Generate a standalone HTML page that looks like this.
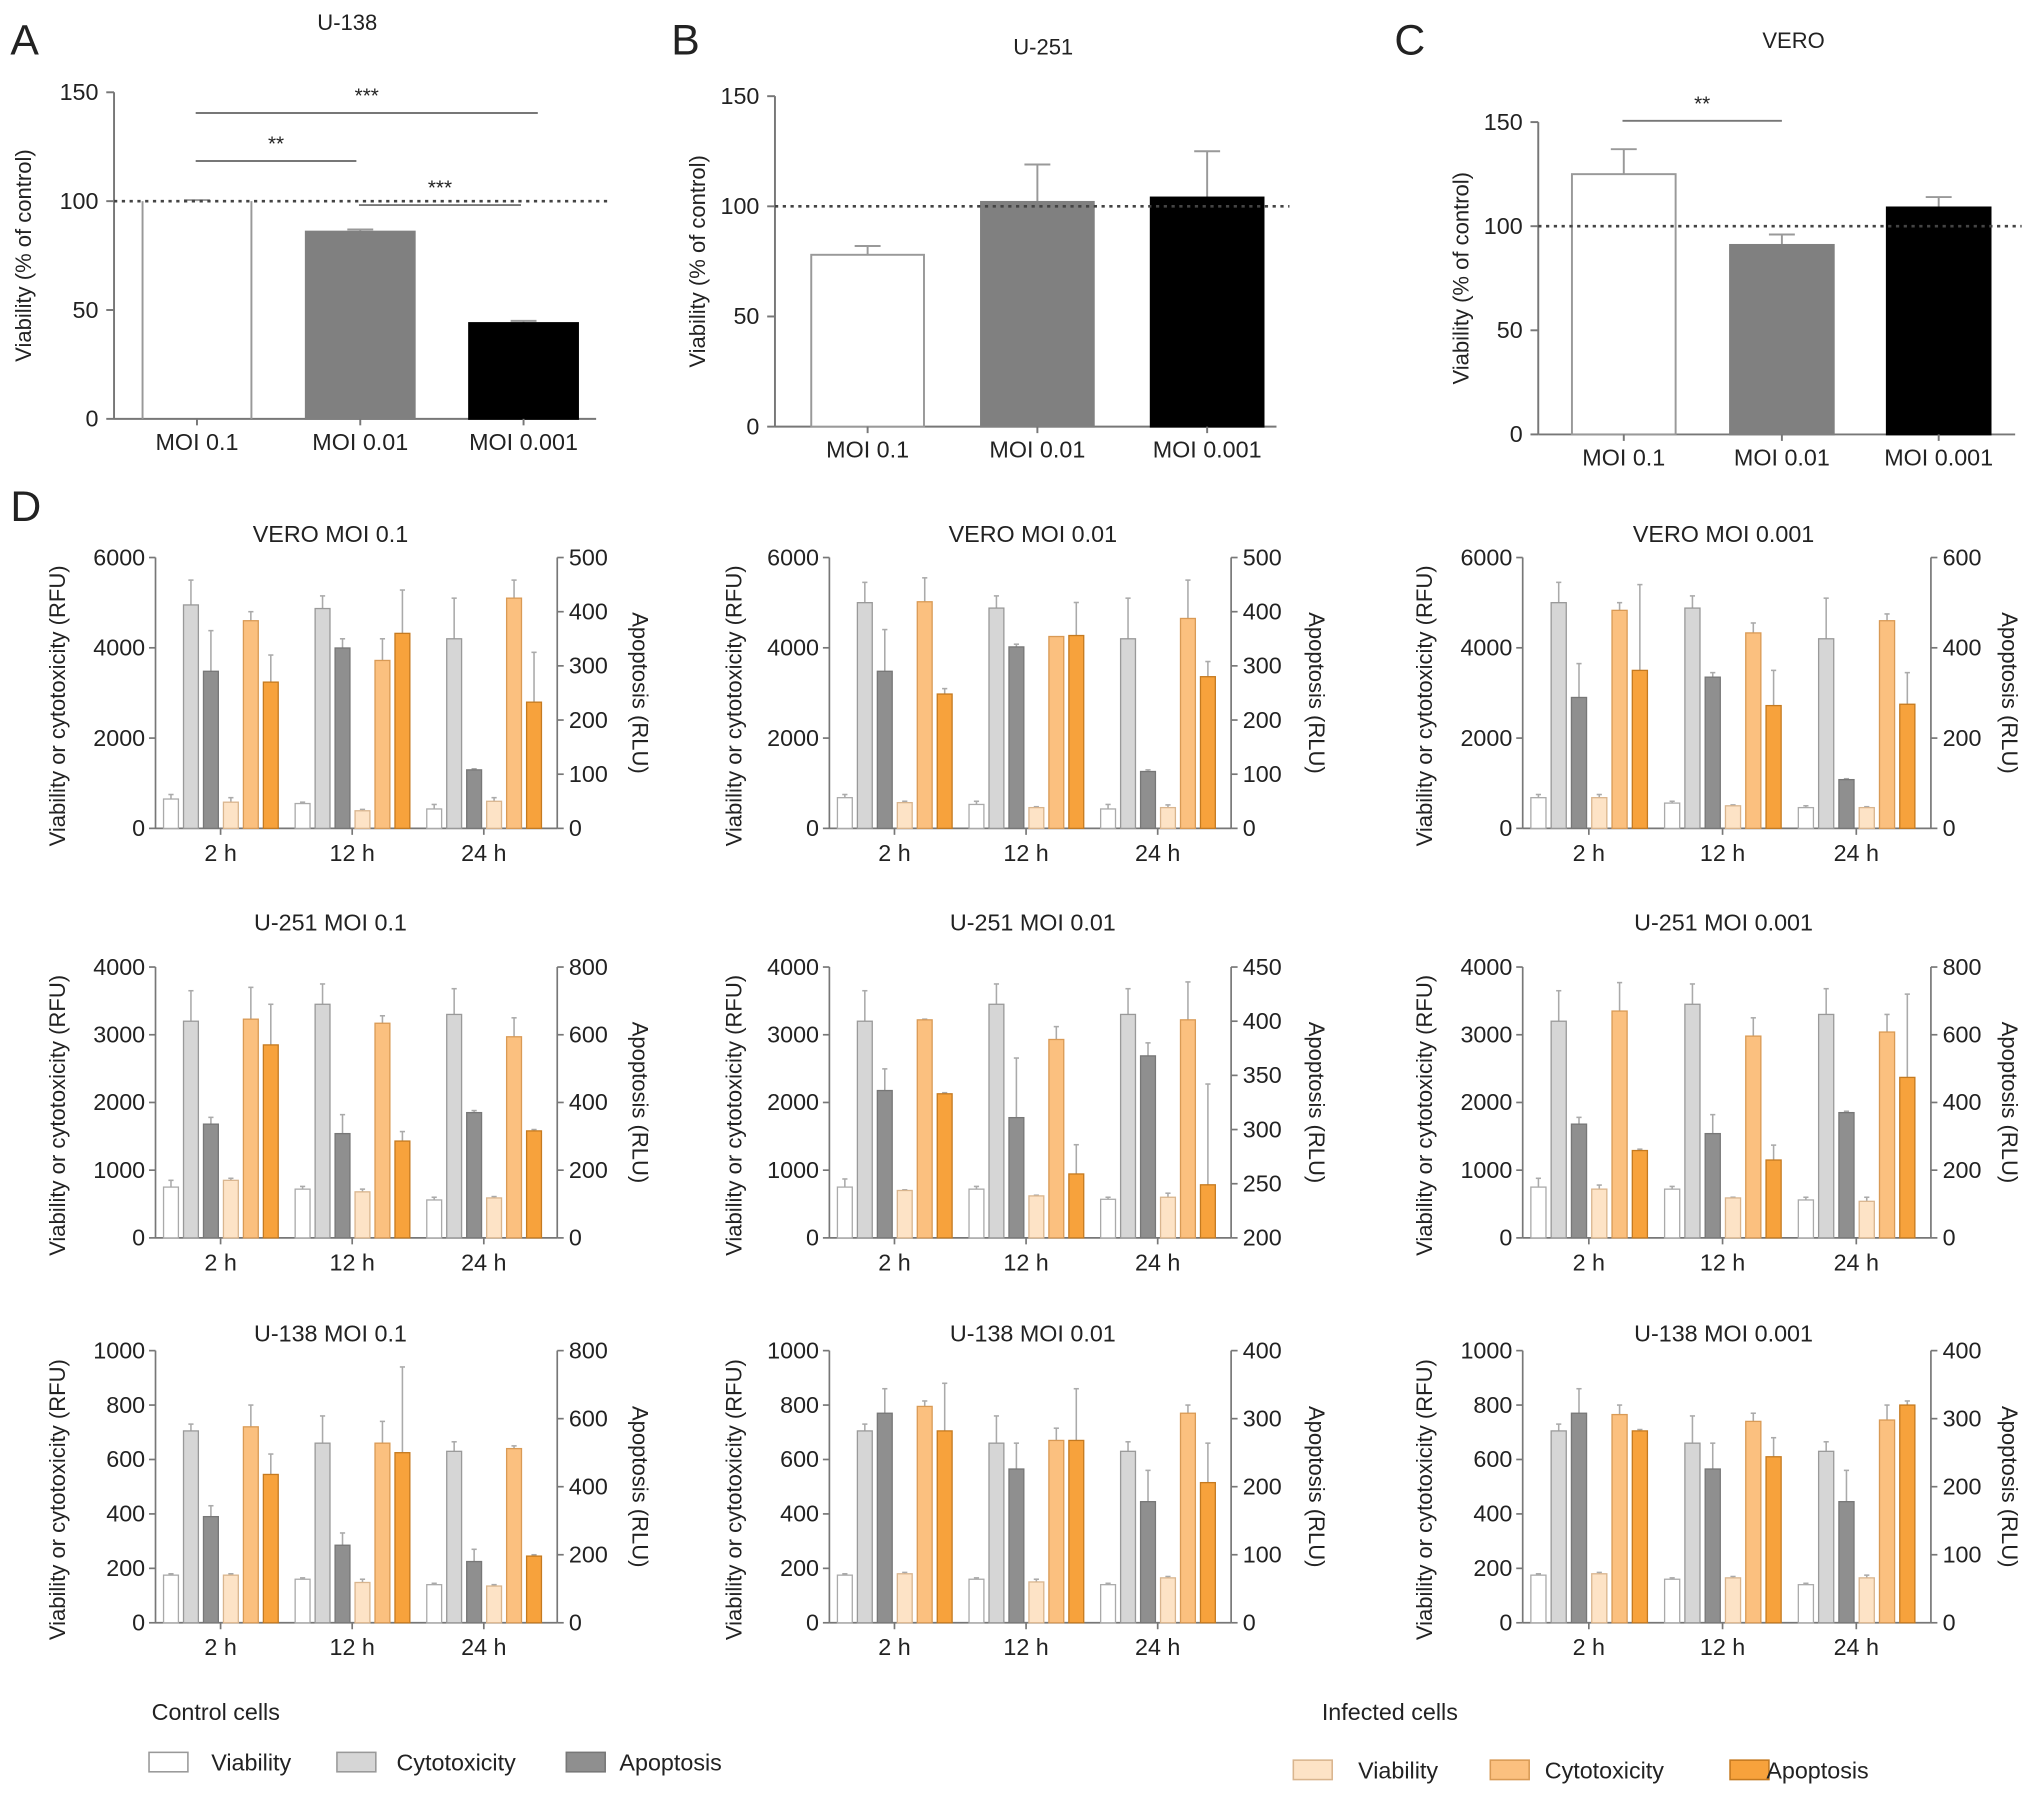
<!DOCTYPE html>
<html><head><meta charset="utf-8"><style>
html,body{margin:0;padding:0;background:#fff}
svg{display:block}
text{font-family:"Liberation Sans",sans-serif;fill:#222}
</style></head><body>
<svg id="fig" width="2032" height="1798" viewBox="0 0 1568 1387" xmlns="http://www.w3.org/2000/svg"></svg>
<script>
// ---------- Panel A/B/C data ----------
const topCats = ["MOI 0.1","MOI 0.01","MOI 0.001"];
const aVals = [100, 86, 44];
const aErr = [100.5, 87, 45];
const bVals = [78, 102, 104];
const bErr = [82, 119, 125];
const cVals = [125, 91, 109];
const cErr = [137, 96, 114];
const topTicks = [0, 50, 100, 150];

// ---------- Panel D data: per panel, per timepoint [V, C, A(right), iV, iC, iA(right)] ----------
const timeCats = ["2 h","12 h","24 h"];
const dTitles = ["VERO MOI 0.1","VERO MOI 0.01","VERO MOI 0.001","U-251 MOI 0.1","U-251 MOI 0.01","U-251 MOI 0.001","U-138 MOI 0.1","U-138 MOI 0.01","U-138 MOI 0.001"];
const dLeftMax = [6000,6000,6000,4000,4000,4000,1000,1000,1000];
const dLeftStep = [2000,2000,2000,1000,1000,1000,200,200,200];
const dRightMin = [0,0,0,0,200,0,0,0,0];
const dRightMax = [500,500,600,800,450,800,800,400,400];
const dRightStep = [100,100,200,200,50,200,200,100,100];
const dVals = [
 [[650,4950,290,580,4600,270],[550,4870,333,390,3720,360],[430,4200,108,600,5100,233]],
 [[680,5000,290,570,5020,248],[530,4880,335,460,4250,356],[430,4200,105,460,4650,280]],
 [[680,5000,290,680,4830,350],[560,4880,335,500,4330,272],[460,4200,108,460,4600,275]],
 [[750,3200,336,850,3230,570],[720,3450,308,680,3170,286],[560,3300,370,590,2970,316]],
 [[750,3200,336,700,3220,333],[720,3450,311,620,2930,259],[570,3300,368,600,3220,249]],
 [[750,3200,336,720,3350,258],[720,3450,308,590,2980,230],[560,3300,370,540,3040,474]],
 [[175,705,312,175,720,436],[160,660,228,148,660,500],[140,630,180,135,640,196]],
 [[175,705,308,180,795,282],[160,660,226,150,670,268],[140,630,178,165,770,206]],
 [[175,705,308,180,765,282],[160,660,226,165,740,244],[140,630,178,165,745,320]]
];
const dErrs = [
 [[750,5500,365,680,4800,320],[580,5150,350,420,4200,440],[530,5100,110,680,5500,325]],
 [[750,5450,367,600,5550,258],[600,5150,340,480,4250,417],[530,5100,108,520,5500,308]],
 [[750,5450,365,750,5000,540],[600,5150,345,520,4550,350],[500,5100,110,480,4750,345]],
 [[850,3650,356,880,3700,690],[760,3750,364,720,3280,314],[600,3680,376,610,3250,320]],
 [[870,3650,356,710,3230,334],[760,3750,366,630,3120,286],[600,3680,380,660,3780,342]],
 [[880,3650,356,780,3770,262],[760,3750,364,600,3250,274],[600,3680,374,600,3300,720]],
 [[180,730,344,180,800,496],[165,760,264,160,740,752],[145,665,216,140,650,200]],
 [[180,730,344,185,815,352],[165,760,264,160,715,344],[145,665,224,170,800,264]],
 [[180,730,344,185,800,284],[165,760,264,170,770,272],[145,665,224,175,800,326]]
];

const NS="http://www.w3.org/2000/svg";
const svg=document.getElementById('fig');
function mk(tag,attrs,parent){const e=document.createElementNS(NS,tag);for(const k in attrs)e.setAttribute(k,attrs[k]);(parent||svg).appendChild(e);return e;}
function txt(s,x,y,size,anchor,parent,extra){const t=mk('text',Object.assign({x:x,y:y,'font-size':size,'text-anchor':anchor||'middle'},extra||{}),parent);t.textContent=s;return t;}

// ---------- top panels ----------
function topPanel(cfg){
  const g=mk('g',{});
  
  
  const y=v=>cfg.y0-(v/150)*(cfg.y0-cfg.y150);
  const l=txt(cfg.letter,cfg.lx,cfg.ly,33,'start',g);
  
  const t=txt(cfg.title,cfg.tx,cfg.ty,17,'middle',g);
  
  mk('line',{x1:cfg.ax,y1:y(150),x2:cfg.ax,y2:cfg.y0,stroke:'#777','stroke-width':1.5},g);
  mk('line',{x1:cfg.ax,y1:cfg.y0,x2:cfg.xend,y2:cfg.y0,stroke:'#777','stroke-width':1.5},g);
  topTicks.forEach(v=>{mk('line',{x1:cfg.ax-6,y1:y(v),x2:cfg.ax,y2:y(v),stroke:'#777','stroke-width':1.5},g);
    const tk=txt(String(v),cfg.ax-12,y(v)+6,18,'end',g);});
  const yl=txt('Viability (% of control)',0,0,17,'middle',g,{transform:`translate(${cfg.ylx},${(y(150)+cfg.y0)/2}) rotate(-90)`});
  
  const fills=['#fff','#808080','#000'];
  const strokes=['#999','#808080','#000'];
  topCats.forEach((c,i)=>{
    const x0=cfg.bx[i], w=cfg.bw;
    if(cfg.err[i]>cfg.vals[i]+0.4){mk('line',{x1:x0+w/2,y1:y(cfg.err[i]),x2:x0+w/2,y2:y(cfg.vals[i]),stroke:'#999','stroke-width':1.5},g);
      mk('line',{x1:x0+w/2-10,y1:y(cfg.err[i]),x2:x0+w/2+10,y2:y(cfg.err[i]),stroke:'#999','stroke-width':1.5},g);}
    let r;
    if(cfg.openTop && i===0){
      r=mk('path',{d:`M${x0},${cfg.y0} V${y(cfg.vals[i])} M${x0+w},${y(cfg.vals[i])} V${cfg.y0}`,fill:'none',stroke:'#999','stroke-width':1.5},g);
    } else {
      r=mk('rect',{x:x0,y:y(cfg.vals[i]),width:w,height:cfg.y0-y(cfg.vals[i]),fill:fills[i],stroke:strokes[i],'stroke-width':1.5},g);
    }
    
    const cx=x0+w/2;
    mk('line',{x1:cx,y1:cfg.y0,x2:cx,y2:cfg.y0+5,stroke:'#777','stroke-width':1.5},g);
    const xl=txt(c,cx,cfg.y0+24,18,'middle',g);
  });
  const dl=mk('line',{x1:cfg.ax,y1:y(100),x2:cfg.dend,y2:y(100),stroke:'#444','stroke-width':2,'stroke-dasharray':'2.5,3.5'},g);
  
  (cfg.sig||[]).forEach(s=>{
    const sl=mk('line',{x1:s[0],y1:s[2],x2:s[1],y2:s[2],stroke:'#777','stroke-width':1.5},g);
    
    const st=txt(s[3],(s[0]+s[1])/2,s[2]-8,16,'middle',g);
  });
}
topPanel({name:'panel-a',letter:'A',lx:8,ly:42,title:'U-138',tx:268,ty:23,ax:88,y0:323,y150:71,xend:460,dend:470,ylx:24,openTop:true,
  bx:[110,236,362],bw:84,vals:aVals,err:aErr,
  sig:[[151,415,87,'***'],[151,275,124,'**'],[277,402,158,'***']]});
topPanel({name:'panel-b',letter:'B',lx:518,ly:42,title:'U-251',tx:805,ty:42,ax:598,y0:329,y150:74,xend:985,dend:995,ylx:544,
  bx:[626,757,888],bw:87,vals:bVals,err:bErr});
topPanel({name:'panel-c',letter:'C',lx:1076,ly:42,title:'VERO',tx:1384,ty:37,ax:1187,y0:335,y150:94,xend:1555,dend:1560,ylx:1133,
  bx:[1213,1335,1456],bw:80,vals:cVals,err:cErr,
  sig:[[1252,1375,93,'**']]});

// ---------- Panel D ----------
const dl=txt('D',8,402,33,'start');
const colL=[120,640,1175], colR=[430,950,1490];
const rowTop=[430,746,1042], rowBot=[639,955,1252], rowTitle=[418,718,1035];
const titleX=[255,797,1330], ylabL=[50,572,1105], ylabR=[488,1010,1545];
const barFill=['#ffffff','#d6d6d6','#8f8f8f','#fde3c6','#fbc07f','#f7a23c'];
const barStroke=['#aaa','#999','#777','#d9b58e','#d99a55','#c57a20'];
const barNames=['control-viability','control-cytotoxicity','control-apoptosis','infected-viability','infected-cytotoxicity','infected-apoptosis'];
for(let p=0;p<9;p++){
  const r=Math.floor(p/3), c=p%3;
  const g=mk('g',{});
  
  
  const L=colL[c], R=colR[c], T=rowTop[r], B=rowBot[r], W=R-L;
  const yl=v=>B-(v/dLeftMax[p])*(B-T);
  const yr=v=>B-((v-dRightMin[p])/(dRightMax[p]-dRightMin[p]))*(B-T);
  const t=txt(dTitles[p],titleX[c],rowTitle[r],18,'middle',g);
  mk('line',{x1:L,y1:T,x2:L,y2:B,stroke:'#777','stroke-width':1.3},g);
  mk('line',{x1:R,y1:T,x2:R,y2:B,stroke:'#777','stroke-width':1.3},g);
  mk('line',{x1:L,y1:B,x2:R,y2:B,stroke:'#777','stroke-width':1.3},g);
  for(let v=0;v<=dLeftMax[p]+1e-6;v+=dLeftStep[p]){
    mk('line',{x1:L-5,y1:yl(v),x2:L,y2:yl(v),stroke:'#777','stroke-width':1.3},g);
    const tk=txt(String(v),L-8,yl(v)+6,18,'end',g);
  }
  for(let v=dRightMin[p];v<=dRightMax[p]+1e-6;v+=dRightStep[p]){
    mk('line',{x1:R,y1:yr(v),x2:R+5,y2:yr(v),stroke:'#777','stroke-width':1.3},g);
    const tk=txt(String(v),R+9,yr(v)+6,18,'start',g);
  }
  const ylt=txt('Viability or cytotoxicity (RFU)',0,0,17,'middle',g,{transform:`translate(${ylabL[c]},${(T+B)/2+10}) rotate(-90)`});
  
  const yrt=txt('Apoptosis (RLU)',0,0,17,'middle',g,{transform:`translate(${ylabR[c]},${(T+B)/2}) rotate(90)`});
  
  timeCats.forEach((tc,i)=>{
    const gs=L+W*(0.02+i*0.3276);
    const tx=gs+W*0.142;
    mk('line',{x1:tx,y1:B,x2:tx,y2:B+5,stroke:'#777','stroke-width':1.3},g);
    const xl=txt(tc,tx,B+25,18,'middle',g);
    for(let j=0;j<6;j++){
      const isR=(j===2||j===5);
      const yf=isR?yr:yl;
      const v=dVals[p][i][j], e=dErrs[p][i][j];
      const bx=gs+W*j*0.0497, bw=W*0.037;
      if(e>v){mk('line',{x1:bx+bw/2,y1:yf(e),x2:bx+bw/2,y2:yf(v),stroke:'#aaa','stroke-width':1.2},g);
        mk('line',{x1:bx+bw/2-2,y1:yf(e),x2:bx+bw/2+2,y2:yf(e),stroke:'#aaa','stroke-width':1.2},g);}
      const rc=mk('rect',{x:bx,y:yf(v),width:bw,height:B-yf(v),fill:barFill[j],stroke:barStroke[j],'stroke-width':1},g);
      
      
    }
  });
}

// ---------- legends ----------
function legend(title,tx,ty,items,sy){
  const g=mk('g',{});
  
  
  const t=txt(title,tx,ty,18,'start',g);
  items.forEach(it=>{
    const s=mk('rect',{x:it[0],y:sy,width:30,height:15,fill:it[2],stroke:it[3],'stroke-width':1.2},g);
    
    const l=txt(it[4],it[1],sy+14,18,'start',g);
  });
}
legend('Control cells',117,1327,[[115,163,'#fff','#999','Viability'],[260,306,'#d6d6d6','#999','Cytotoxicity'],[437,478,'#8f8f8f','#777','Apoptosis']],1352);
legend('Infected cells',1020,1327,[[998,1048,'#fde3c6','#d9b58e','Viability'],[1150,1192,'#fbc07f','#d99a55','Cytotoxicity'],[1335,1363,'#f7a23c','#c57a20','Apoptosis']],1358);
</script>
</body></html>
